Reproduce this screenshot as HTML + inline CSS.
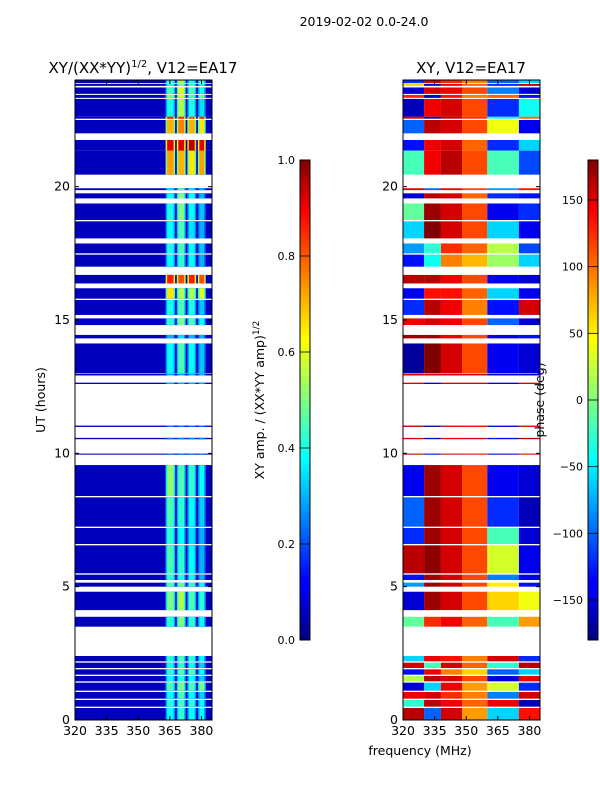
<!DOCTYPE html>
<html><head><meta charset="utf-8"><style>
html,body{margin:0;padding:0;background:#fff;}
svg{display:block;font-family:"DejaVu Sans","Liberation Sans",sans-serif;}
</style></head><body>
<svg id="fig" width="600" height="800" viewBox="0 0 600 800">
<defs>
<linearGradient id="jet" x1="0" y1="1" x2="0" y2="0">
<stop offset="0" stop-color="#00007f"/><stop offset="0.11" stop-color="#0000ff"/><stop offset="0.125" stop-color="#0000ff"/>
<stop offset="0.34" stop-color="#00dcff"/><stop offset="0.375" stop-color="#00ffff"/><stop offset="0.5" stop-color="#80ff80"/>
<stop offset="0.625" stop-color="#ffff00"/><stop offset="0.66" stop-color="#ffe000"/><stop offset="0.89" stop-color="#ff0000"/>
<stop offset="1" stop-color="#7f0000"/>
</linearGradient>
</defs>
<text x="364" y="26" font-size="12.5" text-anchor="middle">2019-02-02 0.0-24.0</text>
<text x="143" y="73" font-size="15" text-anchor="middle">XY/(XX*YY)<tspan font-size="10" dy="-6">1/2</tspan><tspan dy="6">, V12=EA17</tspan></text>
<text x="471" y="73" font-size="15" text-anchor="middle">XY, V12=EA17</text>
<text transform="translate(45,400) rotate(-90)" font-size="12.5" text-anchor="middle">UT (hours)</text>
<text x="420" y="755" font-size="12.5" text-anchor="middle">frequency (MHz)</text>
<text transform="translate(264,400) rotate(-90)" font-size="12.5" text-anchor="middle">XY amp. / (XX*YY amp)<tspan font-size="9" dy="-5">1/2</tspan></text>
<text transform="translate(544,400) rotate(-90)" font-size="12.5" text-anchor="middle">phase (deg)</text>
<g id="ampPlot"></g>
<g id="phPlot"></g>
<g id="axes"></g>
</svg>
<script>
// segment time ranges (hours)
const segTop = [24.0,23.85,23.72,23.44,23.29,22.62,22.5,21.75,21.35,19.94,19.75,19.37,18.7,17.87,17.45,16.69,16.19,15.75,15.06,14.44,14.12,12.98,12.65,11.04,10.58,9.99,9.56,8.35,7.2,6.55,5.45,5.15,4.81,3.87,2.4,2.15,1.9,1.65,1.4,1.05,0.75,0.45];
const segBot = [23.88,23.78,23.48,23.33,22.62,22.55,22.0,21.35,20.45,19.87,19.56,18.75,18.06,17.5,17.0,16.37,15.8,15.19,14.81,14.31,13.0,12.92,12.6,10.99,10.53,9.95,8.4,7.25,6.6,5.5,5.25,5.0,4.12,3.5,2.2,1.95,1.7,1.45,1.1,0.8,0.5,0.0];
// amplitude of the 4 bright subband columns per segment
const ampVals = [[.45,.55,.4,.45],[.4,.5,.45,.4],[.45,.6,.45,.4],[.5,.6,.45,.5],[.4,.55,.4,.35],[.85,.85,.8,.85],[.7,.75,.7,.65],[.9,.9,.95,.9],[.72,.7,.65,.72],[.35,.45,.35,.3],[.38,.5,.38,.3],[.4,.5,.38,.32],[.38,.45,.35,.3],[.4,.45,.38,.32],[.38,.42,.38,.3],[.85,.8,.85,.8],[.65,.55,.55,.6],[.4,.45,.4,.32],[.42,.5,.45,.38],[.3,.35,.3,.3],[.38,.45,.38,.32],[.3,.3,.3,.3],[.3,.3,.3,.3],[.25,.25,.25,.25],[.25,.25,.25,.25],[.25,.25,.25,.25],[.52,.45,.42,.38],[.45,.42,.38,.33],[.42,.38,.35,.3],[.45,.42,.38,.3],[.42,.4,.38,.3],[.45,.48,.42,.38],[.5,.55,.45,.42],[.42,.5,.42,.38],[.42,.45,.42,.38],[.38,.42,.38,.33],[.42,.45,.45,.38],[.38,.42,.38,.33],[.45,.5,.45,.5],[.38,.45,.38,.33],[.42,.45,.42,.38],[.38,.42,.38,.38]];
// phase (deg) in 6 frequency blocks per segment
const phaseVals = [[-120,150,120,90,-100,-60],[60,-150,140,100,-120,160],[-150,150,140,110,-90,-150],[120,-160,130,90,100,-130],[-160,140,150,110,-120,-40],[150,-170,160,120,-40,100],[-100,160,150,110,40,-140],[-130,140,150,100,-120,-60],[-20,140,160,110,-20,-110],[150,-100,140,110,-80,130],[-150,160,150,100,-120,-130],[-10,170,150,110,-140,-120],[-60,180,150,110,-60,-140],[-80,-30,120,100,20,-110],[-130,-40,90,70,10,-60],[160,160,140,110,-140,-150],[-140,130,130,100,-60,-140],[-120,160,140,90,-130,150],[140,150,140,110,-100,-150],[170,170,140,110,-140,-130],[-170,180,150,110,-140,-150],[150,150,150,150,-150,-150],[150,-150,150,150,-150,150],[160,-160,150,140,-150,150],[150,-150,140,150,-140,160],[160,-150,150,140,-150,150],[-140,170,150,110,-140,-150],[-100,170,150,110,-120,-160],[-120,170,150,110,-20,-150],[160,175,150,110,30,-140],[-130,170,150,110,-90,-140],[-80,170,150,110,50,-130],[-150,170,150,110,60,40],[-10,120,140,100,-20,80],[-60,140,130,90,150,-120],[150,-20,150,100,-30,160],[-130,140,90,60,-100,-60],[20,160,150,110,-150,140],[-150,-60,140,80,30,-120],[140,150,120,90,-90,150],[-30,160,140,100,140,-160],[160,-100,150,80,-60,130]];
const ampColLo = [363,368.3,373.3,378.3];
const ampColHi = [367.5,372.5,377.5,382];
const phaseBlockLo = [320,330,338,348,360,375];
const phaseBlockHi = [330,338,348,360,375,385];
const baseAmp = 0.06;
const yTicks = [0,5,10,15,20];
const xTicks = [320,335,350,365,380];
const ampCbTicks = [0.0,0.2,0.4,0.6,0.8,1.0];
const phCbTicks = [-150,-100,-50,0,50,100,150];

const NS="http://www.w3.org/2000/svg";
const P1={x0:75,x1:212}, P2={x0:403,x1:540}, Y0=720, Y1=80, F0=320, F1=385;
function yS(h){return Y0-(h/24)*(Y0-Y1);}
function xS(P,f){return P.x0+(f-F0)/(F1-F0)*(P.x1-P.x0);}
function cl(v){return Math.max(0,Math.min(1,v));}
function jet(v){const r=cl(1.5-Math.abs(4*v-3)),g=cl(1.5-Math.abs(4*v-2)),b=cl(1.5-Math.abs(4*v-1));
 return `rgb(${Math.round(r*255)},${Math.round(g*255)},${Math.round(b*255)})`;}
function mk(tag,attrs,parent){const e=document.createElementNS(NS,tag);for(const k in attrs)e.setAttribute(k,attrs[k]);parent.appendChild(e);return e;}

const ampG=document.getElementById('ampPlot'), phG=document.getElementById('phPlot'), ax=document.getElementById('axes');
for(let i=0;i<segTop.length;i++){
 const yt=yS(segTop[i]), yb=yS(segBot[i]), h=Math.max(1,yb-yt);
 let r=mk('rect',{x:P1.x0,y:yt,width:P1.x1-P1.x0,height:h,fill:jet(baseAmp)},ampG);
 
 
 for(let c=0;c<4;c++){
  const xa=xS(P1,ampColLo[c]), xb=xS(P1,ampColHi[c]);
  r=mk('rect',{x:xa,y:yt,width:xb-xa,height:h,fill:jet(ampVals[i][c]*0.7)},ampG);
  
  
  r=mk('rect',{x:xa+1.5,y:yt,width:xb-xa-3,height:h,fill:jet(ampVals[i][c])},ampG);
  
  
 }
 for(let b=0;b<6;b++){
  const xa=xS(P2,phaseBlockLo[b]), xb=xS(P2,phaseBlockHi[b]);
  r=mk('rect',{x:xa,y:yt,width:xb-xa,height:h,fill:jet((phaseVals[i][b]+180)/360)},phG);
  
  
 }
}
// frames and ticks
[P1,P2].forEach((P,pi)=>{
 let f=mk('rect',{x:P.x0,y:Y1,width:P.x1-P.x0,height:Y0-Y1,fill:'none',stroke:'#000','stroke-width':1},ax);
 
 
 yTicks.forEach(t=>{const y=yS(t);
  mk('line',{x1:P.x0,x2:P.x0+4,y1:y,y2:y,stroke:'#000'},ax);
  mk('line',{x1:P.x1,x2:P.x1-4,y1:y,y2:y,stroke:'#000'},ax);
  const tx=mk('text',{x:P.x0-5,y:y+4,'font-size':12.5,'text-anchor':'end'},ax);tx.textContent=t;
  
  
 });
 xTicks.forEach(t=>{const x=xS(P,t);
  mk('line',{x1:x,x2:x,y1:Y0,y2:Y0-4,stroke:'#000'},ax);
  mk('line',{x1:x,x2:x,y1:Y1,y2:Y1+4,stroke:'#000'},ax);
  const tx=mk('text',{x:x,y:Y0+15,'font-size':12.5,'text-anchor':'middle'},ax);tx.textContent=t;
  
  
 });
});
// colorbars
function cbar(x,ticks,lo,hi,name,fmt){
 const g=mk('g',{},ax);
 
 
 mk('rect',{x:x,y:160,width:10,height:480,fill:'url(#jet)',stroke:'#000','stroke-width':1},g);
 ticks.forEach(t=>{const y=640-(t-lo)/(hi-lo)*480;
  mk('line',{x1:x,x2:x+10,y1:y,y2:y,stroke:'#000','stroke-width':0.8},g);
  const tx=mk('text',{x:x-5,y:y+4,'font-size':11,'text-anchor':'end'},g);tx.textContent=fmt(t);
  
  
 });
}
cbar(300,ampCbTicks,0,1,'amp-colorbar',t=>t.toFixed(1));
cbar(588,phCbTicks,-180,180,'phase-colorbar',t=>t<0?'\u2212'+(-t):String(t));
</script>
</body></html>
